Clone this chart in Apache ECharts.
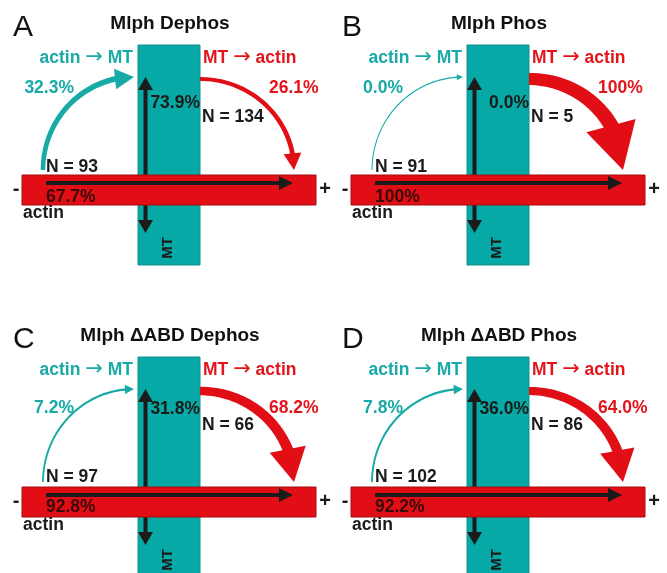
<!DOCTYPE html>
<html><head><meta charset="utf-8">
<script src="https://cdn.jsdelivr.net/npm/echarts@6/dist/echarts.min.js"></script>
<style>html,body{margin:0;padding:0;background:#fff}#c{width:667px;height:573px}</style>
</head><body><div id="c"></div>
<script>
// ---- data ----
const panelLetters = ['A', 'B', 'C', 'D'];
const panelTitles = ['Mlph Dephos', 'Mlph Phos', 'Mlph \u0394ABD Dephos', 'Mlph \u0394ABD Phos'];
const actinToMT = [32.3, 0.0, 7.2, 7.8];     // % switching actin -> MT
const mtToActin = [26.1, 100, 68.2, 64.0];   // % switching MT -> actin
const stayActin = [67.7, 100, 92.8, 92.2];   // % staying on actin
const stayMT = [73.9, 0.0, 31.8, 36.0];      // % staying on MT
const nActin = [93, 91, 97, 102];
const nMT = [134, 5, 66, 86];

// ---- style / layout ----
const FONT = '"Liberation Sans", Arial, Helvetica, sans-serif';
const COL = {
  teal: '#06A9A5', tealEdge: '#17908C', tealText: '#17AAA6',
  red: '#E10F15', redEdge: '#A60C10', redText: '#E3141B',
  black: '#1b1b1b', onRed: '#3a0a0a'
};
const CANVAS_H = 573;
const PANEL_DX = 329, PANEL_DY = 312;
const ROW_LABEL = [
  { inY: 88, stayMTY: 103, nMTY: 117, nActY: 167, actY: 197 },
  { inY: 96, stayMTY: 97, nMTY: 113, nActY: 165, actY: 195 }
];
const LBL = 'bold 17.5px ' + FONT;
const ARROW_FONT = '21px "DejaVu Sans", sans-serif';

function fmt(v) { return v === 100 ? '100%' : v.toFixed(1) + '%'; }

function renderPanel(k) {
  return function (params, api) {
    const C = (x, y) => api.coord([x, y]);
    const M = pts => pts.map(p => C(p[0], p[1]));
    const LY = ROW_LABEL[k < 2 ? 0 : 1];
    const ch = [];

    function straightArrow(x0, y0, x1, y1, lw, L, W, both) {
      const dx = x1 - x0, dy = y1 - y0, len = Math.hypot(dx, dy);
      const ux = dx / len, uy = dy / len, nx = -uy, ny = ux;
      const s0 = both ? [x0 + ux * L, y0 + uy * L] : [x0, y0];
      const s1 = [x1 - ux * L * 0.9, y1 - uy * L * 0.9];
      ch.push({ type: 'polygon', shape: { points: M([
        [s0[0] + nx * lw / 2, s0[1] + ny * lw / 2], [s1[0] + nx * lw / 2, s1[1] + ny * lw / 2],
        [s1[0] - nx * lw / 2, s1[1] - ny * lw / 2], [s0[0] - nx * lw / 2, s0[1] - ny * lw / 2]]) },
        style: { fill: COL.black } });
      const h1 = [x1 - ux * L, y1 - uy * L];
      ch.push({ type: 'polygon', shape: { points: M([
        [h1[0] + nx * W / 2, h1[1] + ny * W / 2], [x1, y1], [h1[0] - nx * W / 2, h1[1] - ny * W / 2]]) },
        style: { fill: COL.black } });
      if (both) {
        ch.push({ type: 'polygon', shape: { points: M([
          [s0[0] + nx * W / 2, s0[1] + ny * W / 2], [x0, y0], [s0[0] - nx * W / 2, s0[1] - ny * W / 2]]) },
          style: { fill: COL.black } });
      }
    }

    function curvedArrow(cx, cy, rx, ry, t0, t1, pct, color) {
      const w0 = 1 + 0.11 * pct, w1 = w0 * 1.25;
      const L = 6 + 0.4 * pct, W = 6 + 0.45 * pct;
      const P = t => [cx + rx * Math.cos(t), cy + ry * Math.sin(t)];
      const tip = P(t1);
      let tb = t0;
      for (let i = 0; i <= 600; i++) {
        const t = t1 - (t1 - t0) * i / 600, p = P(t);
        if (Math.hypot(p[0] - tip[0], p[1] - tip[1]) >= L) { tb = t; break; }
      }
      const base = P(tb);
      const sg = t1 > t0 ? 1 : -1;
      const left = [], right = [], N = 60;
      const tEnd = tb + (t1 - tb) * 0.15;
      for (let i = 0; i <= N; i++) {
        const t = t0 + (tEnd - t0) * i / N, p = P(t);
        let tx = -rx * Math.sin(t) * sg, ty = ry * Math.cos(t) * sg;
        const tl = Math.hypot(tx, ty); tx /= tl; ty /= tl;
        const nx = -ty, ny = tx, w = w0 + (w1 - w0) * i / N;
        left.push([p[0] + nx * w / 2, p[1] + ny * w / 2]);
        right.push([p[0] - nx * w / 2, p[1] - ny * w / 2]);
      }
      ch.push({ type: 'polygon', shape: { points: M(left.concat(right.reverse())) }, style: { fill: color } });
      let dx = tip[0] - base[0], dy = tip[1] - base[1];
      const dl = Math.hypot(dx, dy); dx /= dl; dy /= dl;
      const nx = -dy, ny = dx;
      ch.push({ type: 'polygon', shape: { points: M([
        [base[0] + nx * W / 2, base[1] + ny * W / 2], tip, [base[0] - nx * W / 2, base[1] - ny * W / 2]]) },
        style: { fill: color } });
    }

    function text(x, y, str, st, extra) {
      const p = C(x, y);
      return Object.assign({ type: 'text', x: p[0], y: p[1],
        style: Object.assign({ text: str, fill: COL.black, font: LBL, align: 'left', verticalAlign: 'middle' }, st) }, extra || {});
    }

    // MT (teal) bar
    const a = C(138, 45), b = C(200, 265);
    ch.push({ type: 'rect', shape: { x: a[0], y: a[1], width: b[0] - a[0], height: b[1] - a[1] },
      style: { fill: COL.teal, stroke: COL.tealEdge, lineWidth: 1 } });
    // vertical double arrow on MT
    straightArrow(145.5, 233, 145.5, 77, 4, 13, 15, true);
    // actin (red) bar
    const c = C(22, 175), d = C(316, 205);
    ch.push({ type: 'rect', shape: { x: c[0], y: c[1], width: d[0] - c[0], height: d[1] - c[1] },
      style: { fill: COL.red, stroke: COL.redEdge, lineWidth: 1 } });
    // horizontal arrow on actin
    straightArrow(46, 183, 293, 183, 4, 14, 14, false);
    // actin -> MT curved arrow
    curvedArrow(134, 170, 91, 93, Math.PI, 1.5 * Math.PI, actinToMT[k], COL.tealText);
    // MT -> actin curved arrow
    curvedArrow(200, 170, 94, 91, 1.5 * Math.PI, 2 * Math.PI, mtToActin[k], COL.red);

    // texts
    ch.push(text(13, 28, panelLetters[k], { font: '30px ' + FONT, fill: '#111' }));
    ch.push(text(170, 23.5, panelTitles[k], { font: 'bold 19px ' + FONT, align: 'center', fill: '#111' }));
    ch.push(text(133, 58, '{a|actin }{b|\u2192}{a| MT}', { align: 'right',
      rich: { a: { font: LBL, fill: COL.tealText, color: COL.tealText }, b: { font: ARROW_FONT, fill: COL.tealText, color: COL.tealText } } }));
    ch.push(text(203, 58, '{a|MT }{b|\u2192}{a| actin}', { align: 'left',
      rich: { a: { font: LBL, fill: COL.redText, color: COL.redText }, b: { font: ARROW_FONT, fill: COL.redText, color: COL.redText } } }));
    ch.push(text(74, LY.inY, fmt(actinToMT[k]), { align: 'right', fill: COL.tealText }));
    ch.push(text(269, LY.inY, fmt(mtToActin[k]), { align: 'left', fill: COL.redText }));
    ch.push(text(200, LY.stayMTY, fmt(stayMT[k]), { align: 'right' }));
    ch.push(text(202, LY.nMTY, 'N = ' + nMT[k], {}));
    ch.push(text(46, LY.nActY, 'N = ' + nActin[k], {}));
    ch.push(text(46, LY.actY, fmt(stayActin[k]), { fill: COL.onRed }));
    ch.push(text(23, 213, 'actin', {}));
    ch.push(text(16, 189, '-', { align: 'center', font: 'bold 20px ' + FONT }));
    ch.push(text(325, 189, '+', { align: 'center', font: 'bold 20px ' + FONT }));
    ch.push(text(168, 248, 'MT', { align: 'center', font: 'bold 15px ' + FONT }, { rotation: Math.PI / 2 }));

    return { type: 'group', children: ch };
  };
}

const grids = [], xAxes = [], yAxes = [], series = [];
for (let k = 0; k < 4; k++) {
  const col = k % 2, row = Math.floor(k / 2);
  const top = row * PANEL_DY;
  const h = Math.min(PANEL_DY, CANVAS_H - top);
  grids.push({ left: col * PANEL_DX, top: top, width: 330, height: h });
  xAxes.push({ type: 'value', gridIndex: k, min: 0, max: 330, show: false });
  yAxes.push({ type: 'value', gridIndex: k, min: 0, max: h, inverse: true, show: false });
  series.push({ type: 'custom', xAxisIndex: k, yAxisIndex: k, data: [[0, 0]], silent: true, clip: false,
    renderItem: renderPanel(k) });
}

const chart = echarts.init(document.getElementById('c'), null, { renderer: 'canvas' });
chart.setOption({ backgroundColor: '#ffffff', animation: false, grid: grids, xAxis: xAxes, yAxis: yAxes, series: series });
</script>
</body></html>
